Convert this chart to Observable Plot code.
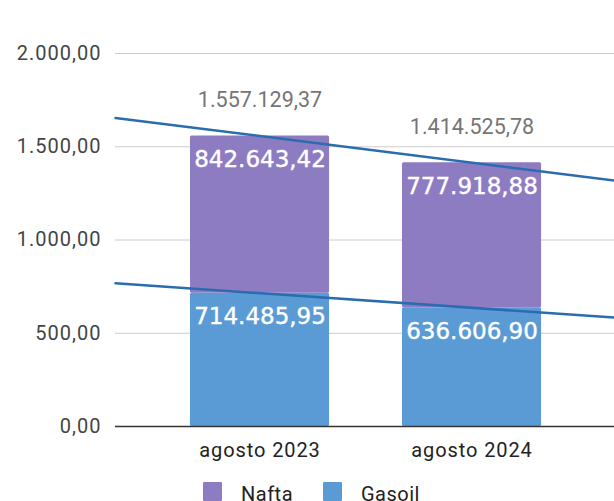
<!DOCTYPE html>
<html><head><meta charset="utf-8">
<script src="https://cdn.jsdelivr.net/npm/d3@7"></script>
<script src="https://cdn.jsdelivr.net/npm/@observablehq/plot@0.6"></script>
<style>
html,body{margin:0;padding:0;background:#fff;}
#wrap{position:relative;width:614px;height:501px;overflow:hidden;font-family:Roboto,sans-serif;}
#chart svg{display:block;}
#chart g[aria-label="y-axis tick label"]{fill:#444;letter-spacing:1px;}
#chart g[aria-label="x-axis tick label"]{fill:#222;letter-spacing:0.9px;}
.leg{position:absolute;top:482px;display:flex;align-items:flex-start;font-size:20px;color:#222;line-height:20px;letter-spacing:0.5px;}
.sw{width:19px;height:19px;margin-right:19px;border-radius:1px;}
.leg span{position:relative;top:2px;}
</style></head>
<body><div id="wrap"><div id="chart"></div></div>
<script>
const categories = ["agosto 2023", "agosto 2024"];
const seriesNames = ["Nafta", "Gasoil"];
const gasoil = [714485.95, 636606.90];
const nafta = [842643.42, 777918.88];
const totals = [1557129.37, 1414525.78];
const yTicks = [0, 500, 1000, 1500, 2000];
const colors = {Nafta: "#8e7cc3", Gasoil: "#5b9bd5"};
const trendColor = "#2a6cb0";

const loc = d3.formatLocale({decimal: ",", thousands: ".", grouping: [3], currency: ["", ""]});
const fmt = loc.format(",.2f");
const S = 1000; // axis shows thousands

const rows = [];
categories.forEach((c, i) => {
  rows.push({i, series: "Gasoil", y1: 0, y2: gasoil[i] / S, v: gasoil[i]});
  rows.push({i, series: "Nafta", y1: gasoil[i] / S, y2: (gasoil[i] + nafta[i]) / S, v: nafta[i]});
});
const totRows = categories.map((c, i) => ({i, y: totals[i] / S, v: totals[i]}));

const xDom = [-0.6816, 1.672];
const hw = 0.328;

function linreg(xs, ys) {
  const n = xs.length, mx = d3.mean(xs), my = d3.mean(ys);
  let sxy = 0, sxx = 0;
  for (let k = 0; k < n; k++) { sxy += (xs[k] - mx) * (ys[k] - my); sxx += (xs[k] - mx) ** 2; }
  const b = sxy / sxx, a = my - b * mx;
  return x => a + b * x;
}
const idx = categories.map((c, i) => i);
const fTot = linreg(idx, totals.map(v => v / S));
const fGas = linreg(idx, gasoil.map(v => v / S));
const trend = [];
for (const x of xDom) trend.push({x, y: fTot(x), s: "tot"});
for (const x of xDom) trend.push({x, y: fGas(x), s: "gas"});

const chart = Plot.plot({
  width: 614, height: 501,
  marginLeft: 115, marginRight: 0, marginTop: 53, marginBottom: 75,
  style: {fontFamily: "Roboto, sans-serif", fontSize: "20px", background: "#fff"},
  x: {type: "linear", domain: xDom, axis: null},
  y: {domain: [0, 2000], axis: null},
  marks: [
    Plot.ruleY(yTicks.filter(t => t > 0), {stroke: "#cccccc", strokeWidth: 1}),
    Plot.rectY(rows, {x1: d => d.i - hw, x2: d => d.i + hw, y1: "y1", y2: "y2", fill: d => colors[d.series], rx: 1.5}),
    Plot.ruleY([0], {stroke: "#333", strokeWidth: 1.5}),
    Plot.line(trend, {x: "x", y: "y", z: "s", stroke: trendColor, strokeWidth: 2.5}),
    Plot.text(rows, {x: "i", y: "y2", text: d => fmt(d.v), fill: "#fff", fontSize: 23, fontFamily: "DejaVu Sans", dy: 23.5, stroke: "#fff", strokeWidth: 0.4}),
    Plot.text(totRows, {x: "i", y: "y", text: d => fmt(d.v), fill: "#757575", fontSize: 21.5, dy: -36, style: "letter-spacing:1.2px"}),
    Plot.axisY(yTicks, {tickSize: 0, tickPadding: 14, tickFormat: fmt, fontSize: 20}),
    Plot.axisX(idx, {tickSize: 0, tickPadding: 16, tickFormat: i => categories[i], fontSize: 20})
  ]
});
const wrap = document.getElementById("chart");
wrap.appendChild(chart);

const legLeft = [203, 323];
seriesNames.forEach((s, k) => {
  const d = document.createElement("div");
  d.className = "leg";
  d.style.left = legLeft[k] + "px";
  d.innerHTML = `<div class="sw" style="background:${colors[s]}"></div><span>${s}</span>`;
  document.getElementById("wrap").appendChild(d);
});
</script>
</body></html>
